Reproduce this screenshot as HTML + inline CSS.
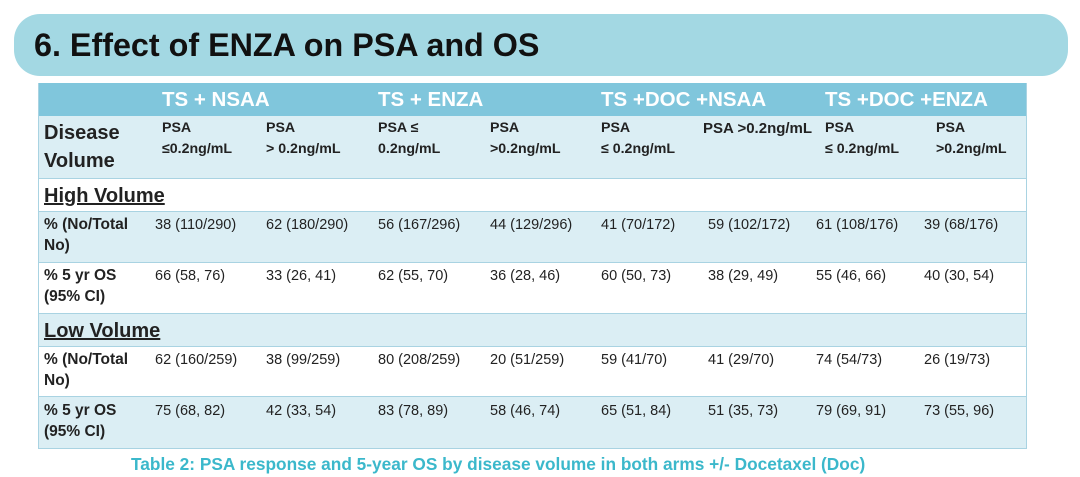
<!DOCTYPE html>
<html><head><meta charset="utf-8"><style>
body{margin:0;width:1080px;height:477px;background:#fff;position:relative;overflow:hidden;font-family:"Liberation Sans",sans-serif;}
.ban{position:absolute;left:14px;top:14px;width:1054px;height:62px;background:#a3d8e3;border-radius:26px;}
.ttl{position:absolute;left:34px;top:27px;font-size:32.3px;font-weight:bold;color:#111;}
.r{position:absolute;left:38px;width:989px;border-bottom:1px solid #a9d3e2;}
.t{position:absolute;font-size:14.5px;color:#222;white-space:nowrap;line-height:21px;}
.s{font-size:14.2px;line-height:21px;}
.l{font-size:15.5px;}
.b{font-weight:bold;}
.h{position:absolute;font-size:20.5px;font-weight:bold;color:#fff;top:88px;}
.cap{position:absolute;left:131px;top:454px;font-size:17.3px;font-weight:bold;color:#3bb8cb;}
</style></head><body>
<div class="ban"></div><div class="ttl">6. Effect of ENZA on PSA and OS</div>
<div class="r" style="top:83px;height:33px;background:#80c6dc;border:none"></div>
<div class="r" style="top:116px;height:62px;background:#dbeef4"></div>
<div class="r" style="top:179px;height:32px;background:#fff"></div>
<div class="r" style="top:212px;height:50px;background:#dbeef4"></div>
<div class="r" style="top:263px;height:50px;background:#fff"></div>
<div class="r" style="top:314px;height:32px;background:#dbeef4"></div>
<div class="r" style="top:347px;height:49px;background:#fff"></div>
<div class="r" style="top:397px;height:51px;background:#dbeef4"></div>
<div style="position:absolute;left:1026px;top:83px;width:1px;height:366px;background:#a9d3e2"></div>
<div style="position:absolute;left:38px;top:83px;width:1px;height:366px;background:#a9d3e2"></div>
<div class="h" style="left:162px">TS + NSAA</div>
<div class="h" style="left:378px">TS + ENZA</div>
<div class="h" style="left:601px">TS +DOC +NSAA</div>
<div class="h" style="left:825px">TS +DOC +ENZA</div>
<div class="t b" style="left:44px;top:119px;font-size:20px;line-height:28px">Disease<br>Volume</div>
<div class="t b s" style="left:162px;top:118px">PSA<br>≤0.2ng/mL</div>
<div class="t b s" style="left:266px;top:118px">PSA<br>&gt; 0.2ng/mL</div>
<div class="t b s" style="left:378px;top:118px">PSA ≤<br>0.2ng/mL</div>
<div class="t b s" style="left:490px;top:118px">PSA<br>&gt;0.2ng/mL</div>
<div class="t b s" style="left:601px;top:118px">PSA<br>≤ 0.2ng/mL</div>
<div class="t b s" style="left:703px;top:118px;font-size:15px">PSA &gt;0.2ng/mL</div>
<div class="t b s" style="left:825px;top:118px">PSA<br>≤ 0.2ng/mL</div>
<div class="t b s" style="left:936px;top:118px">PSA<br>&gt;0.2ng/mL</div>
<div class="t b" style="left:44px;top:183px;font-size:20px;text-decoration:underline;line-height:26px">High Volume</div>
<div class="t b l" style="left:44px;top:214px">% (No/Total<br>No)</div>
<div class="t" style="left:155px;top:215px">38 (110/290)</div><div class="t" style="left:266px;top:215px">62 (180/290)</div><div class="t" style="left:378px;top:215px">56 (167/296)</div><div class="t" style="left:490px;top:215px">44 (129/296)</div><div class="t" style="left:601px;top:215px">41 (70/172)</div><div class="t" style="left:708px;top:215px">59 (102/172)</div><div class="t" style="left:816px;top:215px">61 (108/176)</div><div class="t" style="left:924px;top:215px">39 (68/176)</div>
<div class="t b l" style="left:44px;top:265px">% 5 yr OS<br>(95% CI)</div>
<div class="t" style="left:155px;top:266px">66 (58, 76)</div><div class="t" style="left:266px;top:266px">33 (26, 41)</div><div class="t" style="left:378px;top:266px">62 (55, 70)</div><div class="t" style="left:490px;top:266px">36 (28, 46)</div><div class="t" style="left:601px;top:266px">60 (50, 73)</div><div class="t" style="left:708px;top:266px">38 (29, 49)</div><div class="t" style="left:816px;top:266px">55 (46, 66)</div><div class="t" style="left:924px;top:266px">40 (30, 54)</div>
<div class="t b" style="left:44px;top:318px;font-size:20px;text-decoration:underline;line-height:26px">Low Volume</div>
<div class="t b l" style="left:44px;top:349px">% (No/Total<br>No)</div>
<div class="t" style="left:155px;top:350px">62 (160/259)</div><div class="t" style="left:266px;top:350px">38 (99/259)</div><div class="t" style="left:378px;top:350px">80 (208/259)</div><div class="t" style="left:490px;top:350px">20 (51/259)</div><div class="t" style="left:601px;top:350px">59 (41/70)</div><div class="t" style="left:708px;top:350px">41 (29/70)</div><div class="t" style="left:816px;top:350px">74 (54/73)</div><div class="t" style="left:924px;top:350px">26 (19/73)</div>
<div class="t b l" style="left:44px;top:400px">% 5 yr OS<br>(95% CI)</div>
<div class="t" style="left:155px;top:401px">75 (68, 82)</div><div class="t" style="left:266px;top:401px">42 (33, 54)</div><div class="t" style="left:378px;top:401px">83 (78, 89)</div><div class="t" style="left:490px;top:401px">58 (46, 74)</div><div class="t" style="left:601px;top:401px">65 (51, 84)</div><div class="t" style="left:708px;top:401px">51 (35, 73)</div><div class="t" style="left:816px;top:401px">79 (69, 91)</div><div class="t" style="left:924px;top:401px">73 (55, 96)</div>
<div class="cap">Table 2: PSA response and 5-year OS by disease volume in both arms +/- Docetaxel (Doc)</div>
</body></html>
